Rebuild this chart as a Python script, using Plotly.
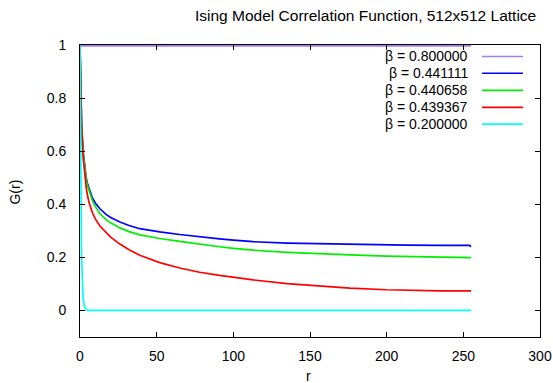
import plotly.graph_objects as go

# Correlation function G(r) for a 512x512 Ising lattice at several inverse temperatures
r_cold = [0, 1, 255]
g_b0800000 = [1.0, 0.9965, 0.9965]

r_crit = [0, 1, 2, 3, 4, 5, 6, 8, 10, 13, 17, 20, 26, 32, 39, 45, 52, 65, 72, 78,
          91, 100, 113, 135, 157, 176, 200, 213, 235, 254, 255]
g_b0441111 = [1.0, 0.71, 0.60, 0.54, 0.50, 0.475, 0.455, 0.425, 0.405, 0.383, 0.362,
              0.350, 0.333, 0.320, 0.308, 0.302, 0.296, 0.286, 0.281, 0.277, 0.270,
              0.265, 0.259, 0.254, 0.251, 0.249, 0.247, 0.246, 0.245, 0.245, 0.240]
g_b0440658 = [1.0, 0.71, 0.595, 0.535, 0.495, 0.468, 0.447, 0.415, 0.392, 0.364, 0.342,
              0.330, 0.311, 0.297, 0.285, 0.278, 0.271, 0.260, 0.254, 0.249, 0.240,
              0.234, 0.227, 0.219, 0.213, 0.209, 0.205, 0.203, 0.201, 0.199, 0.199]
g_b0439367 = [1.0, 0.70, 0.58, 0.51, 0.465, 0.43, 0.405, 0.37, 0.345, 0.318, 0.292,
              0.276, 0.250, 0.229, 0.208, 0.194, 0.180, 0.160, 0.151, 0.144, 0.132,
              0.125, 0.115, 0.101, 0.091, 0.084, 0.078, 0.076, 0.074, 0.074, 0.074]

r_hot = [0, 1, 2, 3, 4, 5, 6, 255]
g_b0200000 = [1.0, 0.21, 0.045, 0.012, 0.003, 0.001, 0.0, 0.0]

series = [
    ("β = 0.800000", r_cold, g_b0800000, "#a77de8"),
    ("β = 0.441111", r_crit, g_b0441111, "#0000ff"),
    ("β = 0.440658", r_crit, g_b0440658, "#00ee00"),
    ("β = 0.439367", r_crit, g_b0439367, "#ff0000"),
    ("β = 0.200000", r_hot, g_b0200000, "#00ffff"),
]

x_ticks = [0, 50, 100, 150, 200, 250, 300]
y_ticks = [0, 0.2, 0.4, 0.6, 0.8, 1.0]
y_tick_text = ["0", "0.2", "0.4", "0.6", "0.8", "1"]

FONT = "Liberation Sans, Arial, sans-serif"

fig = go.Figure()
for name, r, g, color in series:
    fig.add_trace(go.Scatter(x=r, y=g, mode="lines", name=name,
                             line=dict(color=color, width=1.7),
                             showlegend=False))

# gnuplot-style key: label text on the left, line sample on the right
key_rows = [0.9607, 0.9032, 0.8444, 0.7863, 0.7289]
for (name, _, _, color), ky in zip(series, key_rows):
    fig.add_annotation(x=0.848, y=ky, xref="paper", yref="paper", text=name,
                       showarrow=False, xanchor="right", yanchor="middle",
                       font=dict(family=FONT, size=14, color="#000"))
    fig.add_shape(type="line", xref="paper", yref="paper",
                  x0=0.874, x1=0.963, y0=ky, y1=ky,
                  line=dict(color=color, width=1.7))

fig.add_annotation(x=0.62, y=1.101, xref="paper", yref="paper",
                   text="Ising Model Correlation Function, 512x512 Lattice",
                   showarrow=False, xanchor="center", yanchor="middle",
                   font=dict(family=FONT, size=15.5, color="#000"))
fig.add_annotation(x=-0.142, y=0.497, xref="paper", yref="paper", text="G(r)",
                   textangle=-90, showarrow=False, xanchor="center", yanchor="middle",
                   font=dict(family=FONT, size=14, color="#000"))
fig.add_annotation(x=0.497, y=-0.132, xref="paper", yref="paper", text="r",
                   showarrow=False, xanchor="center", yanchor="middle",
                   font=dict(family=FONT, size=14, color="#000"))

axis_common = dict(ticks="inside", ticklen=5, tickcolor="#000", mirror="allticks",
                   showline=True, linecolor="#000", linewidth=1, showgrid=False,
                   zeroline=False, automargin=False,
                   tickfont=dict(family=FONT, size=14, color="#000"))

fig.update_layout(
    width=553, height=383,
    margin=dict(l=80, r=13, t=45, b=46),
    paper_bgcolor="white", plot_bgcolor="white",
    xaxis=dict(range=[0, 300], tickvals=x_ticks, ticklabelstandoff=6, **axis_common),
    yaxis=dict(range=[-0.1, 1.0], tickvals=y_ticks, ticktext=y_tick_text,
               ticklabelstandoff=10, **axis_common),
)

fig.write_html("out.html")
